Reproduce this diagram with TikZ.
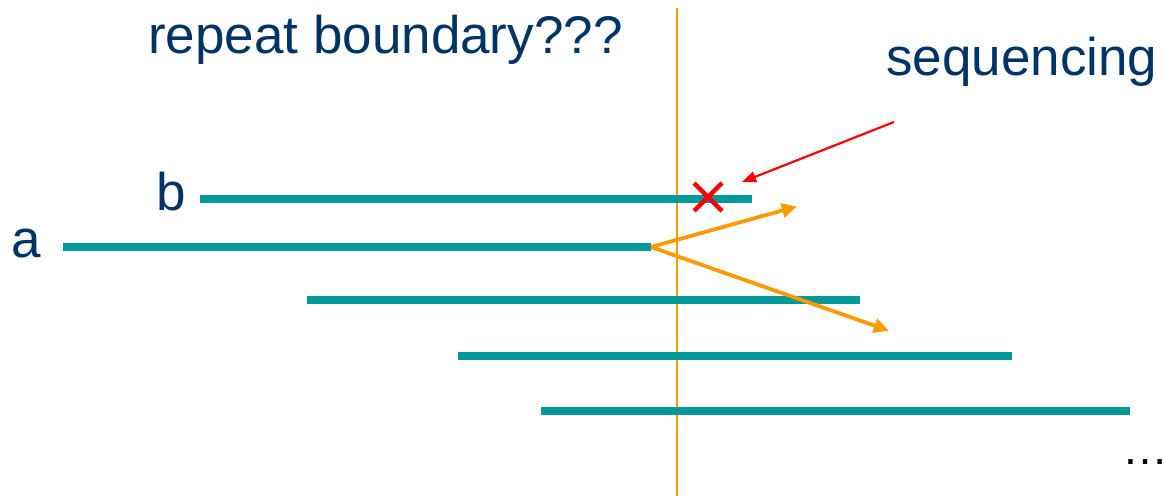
\documentclass[tikz,border=0pt]{standalone}
\usepackage{fontspec}
\setmainfont{Liberation Sans}
\usetikzlibrary{arrows.meta}
\definecolor{tealbar}{RGB}{0,153,153}
\definecolor{navy}{RGB}{0,51,102}
\definecolor{orng}{RGB}{255,153,0}
\tikzset{
  bar/.style={draw=tealbar, line width=7.5pt},
  lbl/.style={text=navy, inner sep=0pt, anchor=base west, font=\fontsize{53}{60}\selectfont},
  oarrow/.style={draw=orng, line width=3.8pt, -{Triangle[length=15pt,width=14pt]}, shorten >=-2pt},
  rarrow/.style={draw=red, line width=2.2pt, -{Triangle[length=14pt,width=11pt]}},
}
\begin{document}
\begin{tikzpicture}[x=1pt,y=-1pt]
\useasboundingbox (0,0) rectangle (1164,498);
% boundary line
\coordinate (vt) at (677,8);
\coordinate (vb) at (677,496);
\draw[orng, line width=1.8pt] (vt) -- (vb);
% reads
\coordinate (b1) at (200,199); \coordinate (b2) at (752,199);
\coordinate (a1) at (63,247);  \coordinate (a2) at (651,247);
\coordinate (c1) at (307,300); \coordinate (c2) at (860,300);
\coordinate (d1) at (458,356); \coordinate (d2) at (1012,356);
\coordinate (e1) at (541,411); \coordinate (e2) at (1130,411);
\draw[bar] (b1) -- (b2);
\draw[bar] (a1) -- (a2);
\draw[bar] (c1) -- (c2);
\draw[bar] (d1) -- (d2);
\draw[bar] (e1) -- (e2);
% labels
\node[lbl] (title) at (148,53) {repeat boundary???};
\node[lbl] (seq) at (886,75) {sequencing};
\node[lbl] (lb) at (156,210) {b};
\node[lbl] (la) at (11,257) {a};
\node[inner sep=0pt, anchor=base west, font=\fontsize{46}{50}\selectfont] (dots) at (1122,464) {…};
% X mark
\coordinate (x1) at (694,183); \coordinate (x2) at (722,211);
\coordinate (x3) at (722,183); \coordinate (x4) at (694,211);
\draw[red, line width=4.5pt] (x1) -- (x2);
\draw[red, line width=4.5pt] (x3) -- (x4);
% arrows
\coordinate (rs) at (894,122); \coordinate (re) at (742,182);
\draw[rarrow] (rs) -- (re);
\coordinate (o1) at (795,207); \coordinate (o2) at (887,330);
\draw[oarrow] (a2) -- (o1);
\draw[oarrow] (a2) -- (o2);
\end{tikzpicture}
\end{document}
